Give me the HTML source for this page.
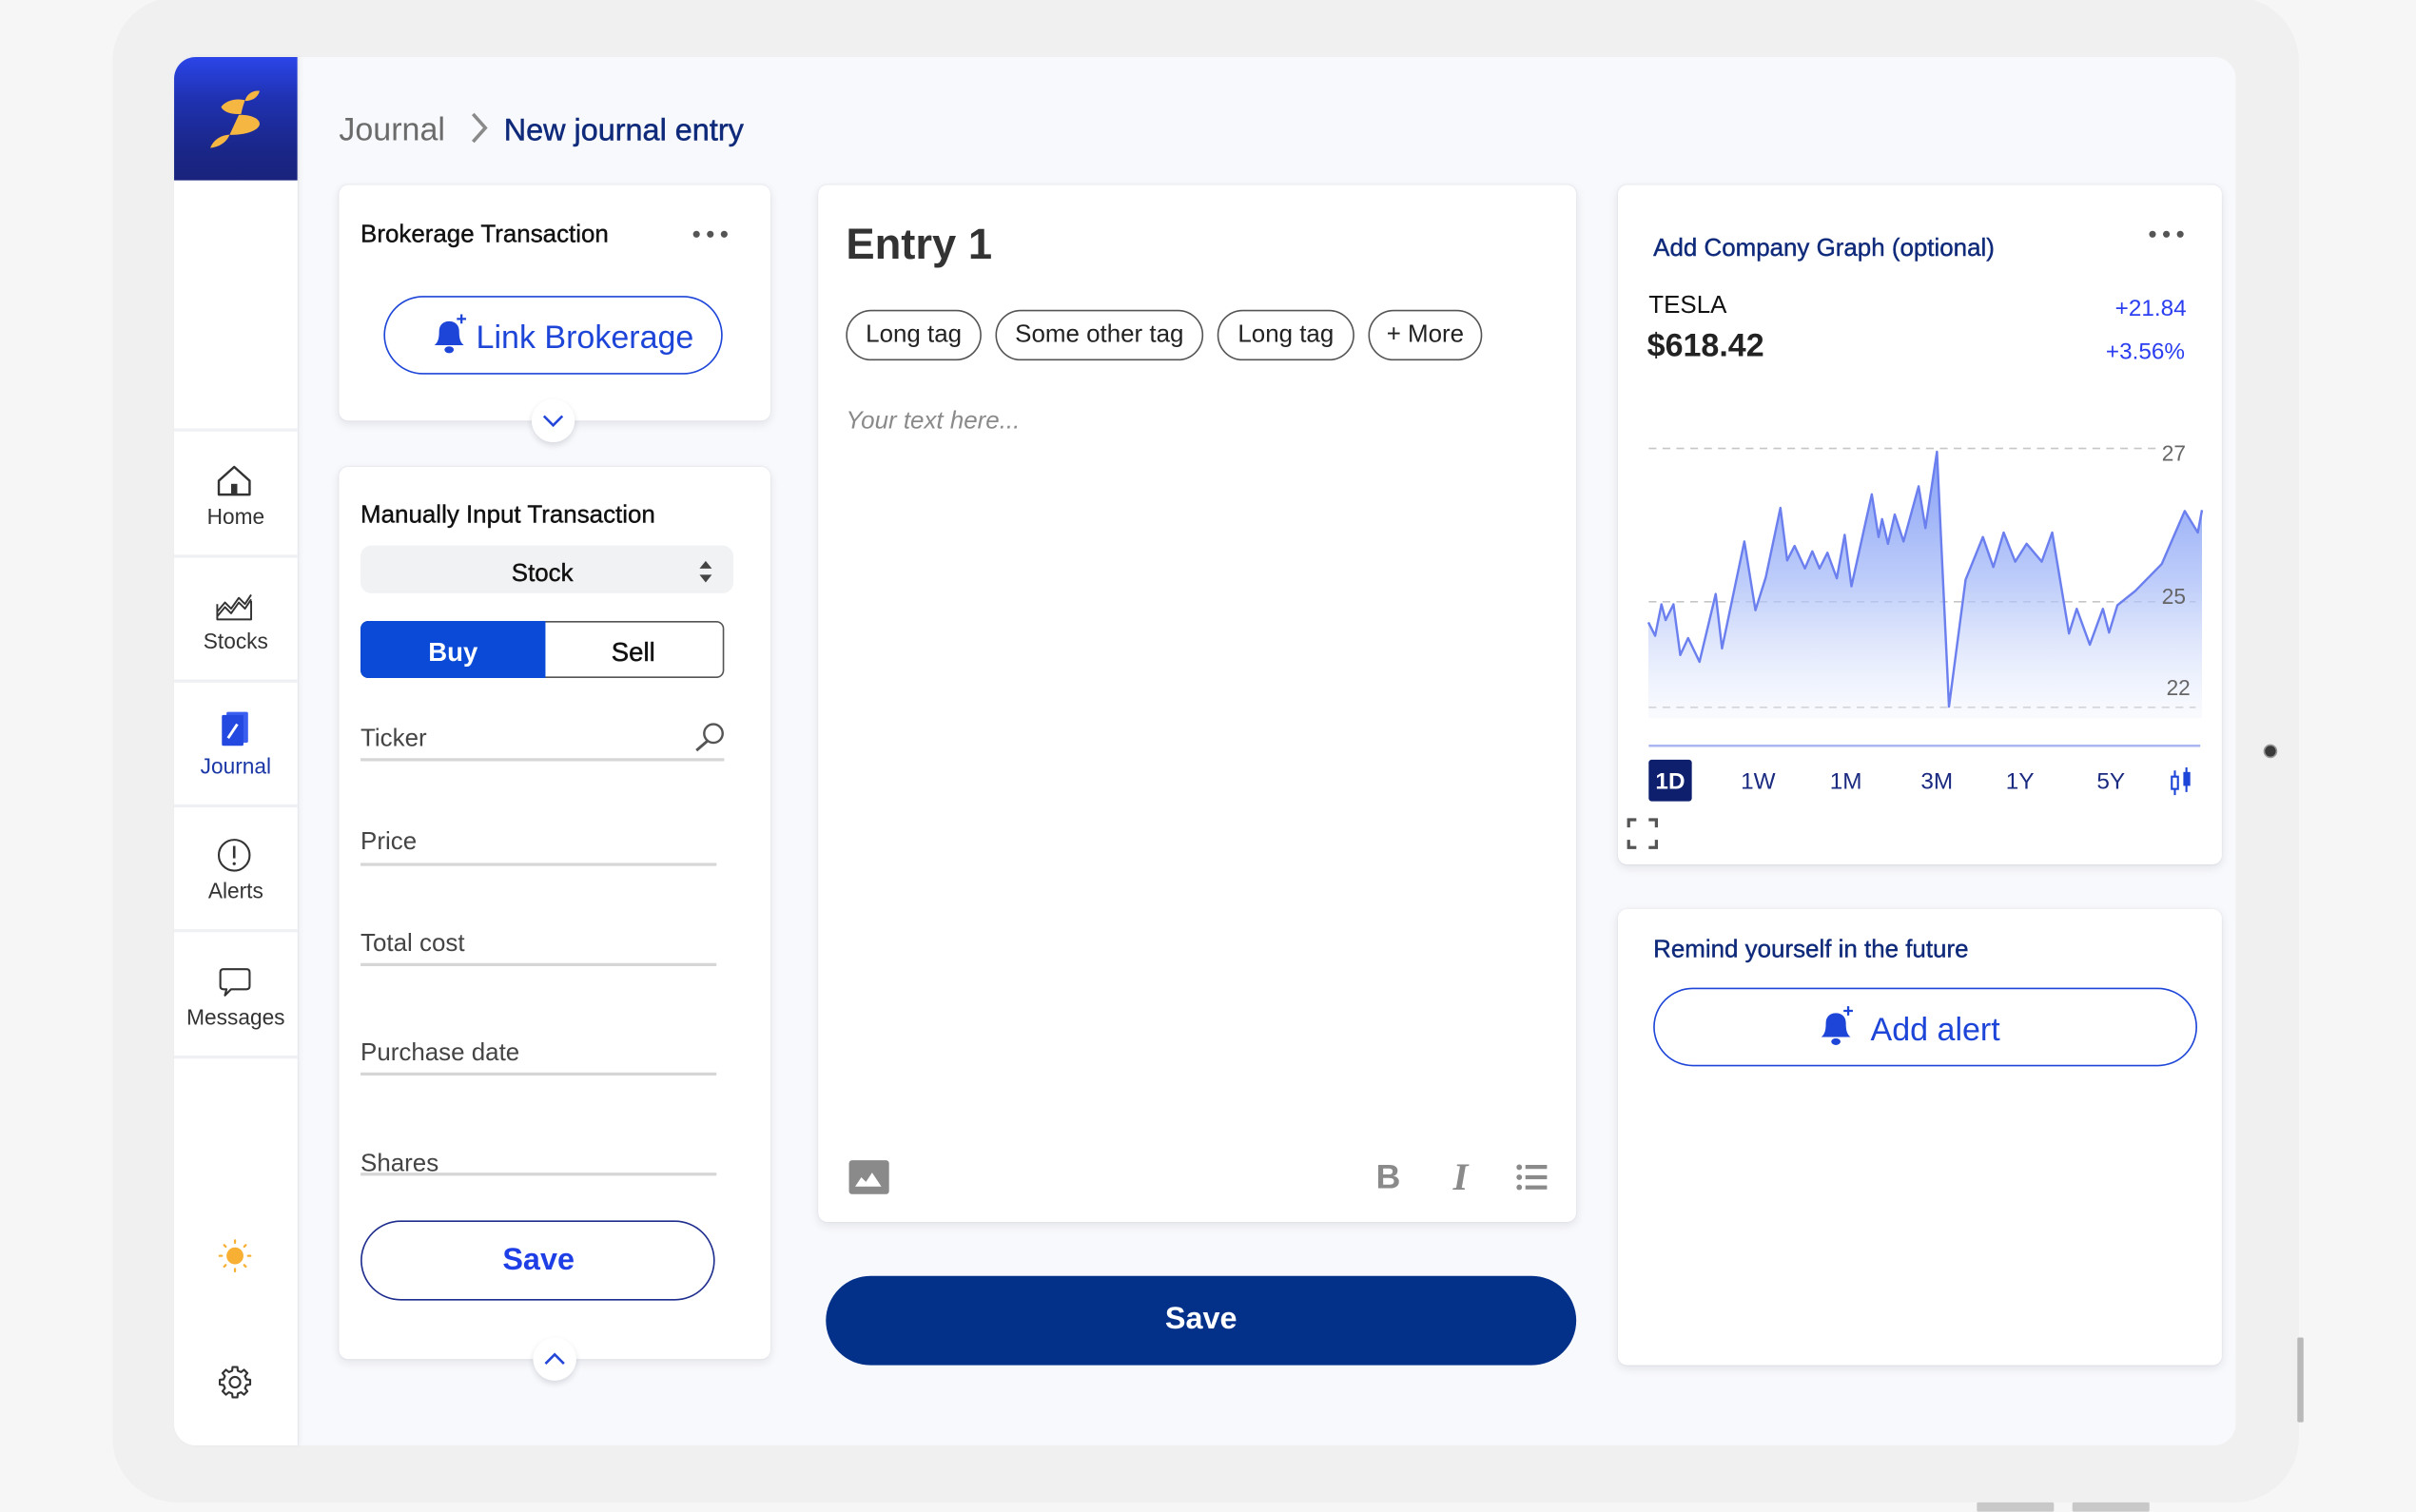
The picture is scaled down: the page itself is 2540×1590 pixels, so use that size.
<!DOCTYPE html>
<html><head><meta charset="utf-8">
<style>
html,body{margin:0;padding:0;}
body{width:2540px;height:1588px;overflow:hidden;background:#f6f6f7;font-family:"Liberation Sans",Arial,sans-serif;}
.s{position:absolute;left:0;top:0;width:1568px;height:980px;transform:scale(1.6199,1.6204);transform-origin:0 0;}
.a{position:absolute;}
.t{position:absolute;line-height:1;white-space:nowrap;margin-top:1.5px;}
.t0{margin-top:0;}
.card{position:absolute;background:#fff;border-radius:6px;box-shadow:0 2px 6px rgba(20,30,60,0.10),0 0 1px rgba(20,30,60,0.08);}
.ul{position:absolute;height:1.5px;background:#d6d6d6;}
.tag{position:absolute;top:201px;border:1px solid #555;border-radius:17px;display:flex;align-items:center;justify-content:center;font-size:16px;color:#222;white-space:nowrap;padding-top:1px;box-sizing:border-box;height:33px;}
.lbl{position:absolute;left:113px;width:80px;text-align:center;font-size:14px;line-height:1;color:#333;}
.sep{position:absolute;left:113px;width:80px;height:2px;background:#eef0f3;}
.circ{position:absolute;width:28px;height:28px;border-radius:50%;background:#fff;box-shadow:0 2px 4px rgba(20,30,60,0.14);}
</style></head>
<body>
<div class="s">
  <!-- device frame -->
  <div class="a" style="left:0;top:0;width:72px;height:980px;background:#f6f6f7;"></div>
  <div class="a" style="left:73px;top:-2px;width:1419px;height:977px;background:#f0f0f0;border-radius:42px;"></div>
  <div class="a" style="left:1491px;top:868px;width:4px;height:55px;background:#b9b9b9;border-radius:1px;"></div>
  <div class="a" style="left:1283px;top:975px;width:50px;height:6px;background:#c8c8c8;border-radius:1px;"></div>
  <div class="a" style="left:1345px;top:975px;width:50px;height:6px;background:#c8c8c8;border-radius:1px;"></div>
  <div class="a" style="left:1469px;top:483px;width:7px;height:7px;border-radius:50%;background:#3a3a3a;border:1px solid #9a9a9a;"></div>

  <!-- screen -->
  <div class="a" style="left:113px;top:37px;width:1338px;height:901px;background:#f8f9fc;border-radius:14px;"></div>
  <!-- sidebar -->
  <div class="a" style="left:113px;top:37px;width:80px;height:901px;background:#fff;border-radius:14px 0 0 14px;border-right:1px solid #e7e9ee;box-shadow:1px 0 3px rgba(0,0,0,0.04);"></div>
  <div class="a" style="left:113px;top:37px;width:80px;height:80px;border-radius:14px 0 0 0;background:linear-gradient(180deg,#2b45e8 0%,#1f31b0 35%,#1a2688 75%,#19237c 100%);"></div>
  <div class="sep" style="top:278px"></div>
  <div class="sep" style="top:360px"></div>
  <div class="sep" style="top:441px"></div>
  <div class="sep" style="top:522px"></div>
  <div class="sep" style="top:603px"></div>
  <div class="sep" style="top:685px"></div>
  <div class="lbl" style="top:328px">Home</div>
  <div class="lbl" style="top:409px">Stocks</div>
  <div class="lbl" style="top:490px;color:#1a36a6">Journal</div>
  <div class="lbl" style="top:571px">Alerts</div>
  <div class="lbl" style="top:653px">Messages</div>

  <!-- breadcrumb -->
  <div class="t" style="left:220px;top:72px;font-size:21px;color:#6b6b6b;">Journal</div>
  <div class="t" style="left:327px;top:73px;font-size:20px;color:#0f2a7a;-webkit-text-stroke:0.3px #0f2a7a;">New journal entry</div>

  <!-- card 1 -->
  <div class="card" style="left:220px;top:120px;width:280px;height:153px;"></div>
  <div class="t" style="left:234px;top:143px;font-size:16px;color:#111;-webkit-text-stroke:0.25px #111;">Brokerage Transaction</div>
  <div class="a" style="left:249px;top:192px;width:218px;height:49px;border:1.5px solid #1d45d8;border-radius:26px;"></div>
  <div class="t" style="left:309px;top:207px;font-size:21px;color:#1d45d8;">Link Brokerage</div>
  <div class="circ" style="left:345px;top:259px;"></div>

  <!-- card 2 -->
  <div class="card" style="left:220px;top:303px;width:280px;height:579px;"></div>
  <div class="t" style="left:234px;top:325px;font-size:16px;color:#111;-webkit-text-stroke:0.25px #111;">Manually Input Transaction</div>
  <div class="a" style="left:234px;top:354px;width:242px;height:31px;background:#f1f2f4;border-radius:7px;"></div>
  <div class="t" style="left:234px;top:363px;width:236px;text-align:center;font-size:16px;color:#111;-webkit-text-stroke:0.25px #111;">Stock</div>
  <div class="a" style="left:234px;top:403px;width:234px;height:35px;border:1px solid #555;border-radius:5px;"></div>
  <div class="a" style="left:234px;top:403px;width:120px;height:37px;background:#0a4ad6;border-radius:5px 0 0 5px;"></div>
  <div class="t" style="left:234px;top:413px;width:120px;text-align:center;font-size:17px;font-weight:bold;color:#fff;">Buy</div>
  <div class="t" style="left:354px;top:413px;width:114px;text-align:center;font-size:17px;color:#111;-webkit-text-stroke:0.3px #111;">Sell</div>
  <div class="t" style="left:234px;top:470px;font-size:16px;color:#444;">Ticker</div>
  <div class="ul" style="left:234px;top:492px;width:236px;"></div>
  <div class="t" style="left:234px;top:537px;font-size:16px;color:#444;">Price</div>
  <div class="ul" style="left:234px;top:560px;width:231px;"></div>
  <div class="t" style="left:234px;top:603px;font-size:16px;color:#444;">Total cost</div>
  <div class="ul" style="left:234px;top:625px;width:231px;"></div>
  <div class="t" style="left:234px;top:674px;font-size:16px;color:#444;">Purchase date</div>
  <div class="ul" style="left:234px;top:696px;width:231px;"></div>
  <div class="t" style="left:234px;top:746px;font-size:16px;color:#444;">Shares</div>
  <div class="ul" style="left:234px;top:761px;width:231px;"></div>
  <div class="a" style="left:234px;top:792px;width:228px;height:50px;border:1.5px solid #1f2e8e;border-radius:27px;"></div>
  <div class="t t0" style="left:234px;top:808px;width:231px;text-align:center;font-size:20px;font-weight:bold;color:#1f3fe6;">Save</div>
  <div class="circ" style="left:346px;top:868px;"></div>

  <!-- center card -->
  <div class="card" style="left:531px;top:120px;width:492px;height:673px;"></div>
  <div class="t" style="left:549px;top:143px;font-size:28px;font-weight:bold;color:#333;">Entry 1</div>
  <div class="tag" style="left:549px;width:88px;">Long tag</div>
  <div class="tag" style="left:646px;width:135px;">Some other tag</div>
  <div class="tag" style="left:790px;width:89px;">Long tag</div>
  <div class="tag" style="left:888px;width:74px;">+ More</div>
  <div class="t" style="left:549px;top:264px;font-size:16px;font-style:italic;color:#8a8a8a;">Your text here...</div>
  <div class="t t0" style="left:893px;top:753px;font-size:22px;font-weight:bold;color:#8a8a8a;">B</div>
  <div class="t t0" style="left:943px;top:752px;font-size:25px;font-weight:bold;font-style:italic;font-family:'Liberation Serif',serif;color:#8a8a8a;">I</div>

  <div class="a" style="left:536px;top:828px;width:487px;height:58px;background:#03318a;border-radius:29px;"></div>
  <div class="t t0" style="left:536px;top:846px;width:487px;text-align:center;font-size:20px;font-weight:bold;color:#fff;">Save</div>

  <!-- right card -->
  <div class="card" style="left:1050px;top:120px;width:392px;height:441px;"></div>
  <div class="t" style="left:1073px;top:152px;font-size:16px;color:#0f2a7a;-webkit-text-stroke:0.25px #0f2a7a;">Add Company Graph (optional)</div>
  <div class="t" style="left:1070px;top:189px;font-size:16px;color:#111;">TESLA</div>
  <div class="t" style="left:1069px;top:212px;font-size:21px;font-weight:bold;color:#222;">$618.42</div>
  <div class="t" style="left:1320px;top:191px;width:99px;text-align:right;font-size:15px;color:#2a3ef0;">+21.84</div>
  <div class="t" style="left:1320px;top:219px;width:98px;text-align:right;font-size:15px;color:#2a3ef0;">+3.56%</div>
  <div class="a" style="left:1070px;top:493px;width:28px;height:27px;background:#0e1f6e;border-radius:2px;"></div>
  <div class="t t0" style="left:1070px;top:500px;width:28px;text-align:center;font-size:15px;font-weight:bold;color:#fff;">1D</div>
  <div class="t t0" style="left:1121px;top:500px;width:40px;text-align:center;font-size:15px;color:#1a2a80;">1W</div>
  <div class="t t0" style="left:1178px;top:500px;width:40px;text-align:center;font-size:15px;color:#1a2a80;">1M</div>
  <div class="t t0" style="left:1237px;top:500px;width:40px;text-align:center;font-size:15px;color:#1a2a80;">3M</div>
  <div class="t t0" style="left:1291px;top:500px;width:40px;text-align:center;font-size:15px;color:#1a2a80;">1Y</div>
  <div class="t t0" style="left:1350px;top:500px;width:40px;text-align:center;font-size:15px;color:#1a2a80;">5Y</div>

  <!-- remind card -->
  <div class="card" style="left:1050px;top:590px;width:392px;height:296px;"></div>
  <div class="t" style="left:1073px;top:607px;font-size:16px;color:#0f2a7a;-webkit-text-stroke:0.25px #0f2a7a;">Remind yourself in the future</div>
  <div class="a" style="left:1073px;top:641px;width:351px;height:49px;border:1.5px solid #1d45d8;border-radius:26px;"></div>
  <div class="t" style="left:1214px;top:656px;font-size:21px;color:#1d45d8;">Add alert</div>

  <!-- graphics overlay -->
  <svg class="a" style="left:0;top:0;" width="1568" height="980" viewBox="0 0 1568 980">
    <defs>
      <linearGradient id="fg" x1="0" y1="290" x2="0" y2="468" gradientUnits="userSpaceOnUse">
        <stop offset="0" stop-color="#7995f4" stop-opacity="0.95"/>
        <stop offset="0.5" stop-color="#a9bdf8" stop-opacity="0.75"/>
        <stop offset="1" stop-color="#eef2fd" stop-opacity="0.3"/>
      </linearGradient>
    </defs>
    <!-- logo -->
    <g fill="#f5b642">
      <path d="M159,65.5 C160,61 164,58.5 168.5,59 C167.5,63 164,65.5 159,65.5 Z"/>
      <path d="M159,65 C153,63.5 146,65.5 143.5,69.5 C145,72.5 150,74.5 156.5,74 C157,71 158,68 159,65 Z"/>
      <path d="M155,74.5 C162,74.3 168.5,76.5 168.5,80.5 C168,85 158,87.8 149,87.5 Z"/>
      <path d="M149,87.5 C144,87.5 138.5,90.5 136.5,96 C142,95.5 147,92.5 149,87.5 Z"/>
    </g>
    <!-- breadcrumb chevron -->
    <polyline points="307,74 315,83 307,92" fill="none" stroke="#8a8a8a" stroke-width="2.2"/>
    <!-- card1 dots -->
    <g fill="#555"><circle cx="452" cy="152" r="2.2"/><circle cx="461" cy="152" r="2.2"/><circle cx="470" cy="152" r="2.2"/></g>
    <!-- bells -->
    <g fill="#1d45d8" transform="translate(282,207)">
      <path d="M0,17 C2.5,15 3,12 3,8 C3,4 5.5,1.5 9.5,1.5 C13.5,1.5 16,4 16,8 C16,12 16.5,15 19,17 Z"/>
      <ellipse cx="9.5" cy="20" rx="3" ry="2.2"/>
      <path d="M17.5,-3 v6 M14.5,0 h6" stroke="#1d45d8" stroke-width="1.4"/>
    </g>
    <g fill="#1d45d8" transform="translate(1182,656)">
      <path d="M0,17 C2.5,15 3,12 3,8 C3,4 5.5,1.5 9.5,1.5 C13.5,1.5 16,4 16,8 C16,12 16.5,15 19,17 Z"/>
      <ellipse cx="9.5" cy="20" rx="3" ry="2.2"/>
      <path d="M17.5,-3 v6 M14.5,0 h6" stroke="#1d45d8" stroke-width="1.4"/>
    </g>
    <!-- chevrons -->
    <polyline points="353,270 359,276 365,270" fill="none" stroke="#2346d8" stroke-width="1.6"/>
    <polyline points="354,885 360,879 366,885" fill="none" stroke="#2346d8" stroke-width="1.6"/>
    <!-- select arrows -->
    <path d="M454,369 L458,364 L462,369 Z M454,373 L458,378 L462,373 Z" fill="#444"/>
    <!-- search -->
    <circle cx="463" cy="476" r="6" fill="none" stroke="#555" stroke-width="1.5"/>
    <line x1="459" y1="481" x2="452" y2="487" stroke="#555" stroke-width="1.8"/>
    <!-- image icon -->
    <rect x="551" y="753" width="26" height="22" rx="2" fill="#8a8a8a"/>
    <path d="M555,770 L559,764 L562,767 L566,761 L572,770 Z" fill="#fff"/>
    <!-- list icon -->
    <g fill="#8a8a8a"><circle cx="986" cy="757.5" r="1.8"/><circle cx="986" cy="764" r="1.8"/><circle cx="986" cy="770.5" r="1.8"/>
    <rect x="990" y="756" width="14" height="2.6"/><rect x="990" y="762.7" width="14" height="2.6"/><rect x="990" y="769.3" width="14" height="2.6"/></g>
    <!-- right card dots -->
    <g fill="#555"><circle cx="1397" cy="152" r="2.2"/><circle cx="1406" cy="152" r="2.2"/><circle cx="1415" cy="152" r="2.2"/></g>
    <!-- chart grid -->
    <g stroke="#c6c6c6" stroke-width="1" stroke-dasharray="5 4">
      <line x1="1070" y1="291" x2="1400" y2="291"/>
      <line x1="1070" y1="390.5" x2="1425" y2="390.5"/>
      <line x1="1070" y1="459" x2="1425" y2="459"/>
    </g>
    <path fill="url(#fg)" d="M1069.8,403.9 L1074.2,412.6 L1078.3,392.2 L1081,402.4 L1086.1,392.2 L1090.5,425.1 L1095.6,414.1 L1103,429.5 L1113.5,385.5 L1117.6,420.8 L1132.1,351.4 L1139.3,396 L1146,374.7 L1155.5,329.6 L1159.9,363.7 L1164.7,354.3 L1171.4,368.9 L1176.2,357.8 L1180.9,368.9 L1186,358.7 L1192.1,375.3 L1197.2,347.1 L1201.6,380.5 L1214.8,320.8 L1219.2,348.5 L1221.5,336.9 L1225.3,352.9 L1229.7,333.9 L1235.4,351.4 L1245.2,315.6 L1249.6,342.7 L1257.1,293.2 L1264.9,458.6 L1275.7,376.2 L1286.9,348.5 L1293.7,368 L1300.4,345.6 L1307.9,364.5 L1315.3,352.9 L1325.1,364.5 L1331.9,345.6 L1342.8,411.1 L1347.8,395.1 L1356.3,418.4 L1364.8,395.1 L1368.8,410.5 L1374.2,392.8 L1385.8,383.5 L1403,366 L1417.9,331.6 L1426.4,345.6 L1429.1,331 L1429.1,466 L1069.8,466 Z"/>
    <polyline fill="none" stroke="#6b7fee" stroke-width="1.5" stroke-linejoin="round" points="1069.8,403.9 1074.2,412.6 1078.3,392.2 1081,402.4 1086.1,392.2 1090.5,425.1 1095.6,414.1 1103,429.5 1113.5,385.5 1117.6,420.8 1132.1,351.4 1139.3,396 1146,374.7 1155.5,329.6 1159.9,363.7 1164.7,354.3 1171.4,368.9 1176.2,357.8 1180.9,368.9 1186,358.7 1192.1,375.3 1197.2,347.1 1201.6,380.5 1214.8,320.8 1219.2,348.5 1221.5,336.9 1225.3,352.9 1229.7,333.9 1235.4,351.4 1245.2,315.6 1249.6,342.7 1257.1,293.2 1264.9,458.6 1275.7,376.2 1286.9,348.5 1293.7,368 1300.4,345.6 1307.9,364.5 1315.3,352.9 1325.1,364.5 1331.9,345.6 1342.8,411.1 1347.8,395.1 1356.3,418.4 1364.8,395.1 1368.8,410.5 1374.2,392.8 1385.8,383.5 1403,366 1417.9,331.6 1426.4,345.6 1429.1,331"/>
    <line x1="1070" y1="484" x2="1428" y2="484" stroke="#a9b6f2" stroke-width="1.5"/>
    <g font-family="Liberation Sans, Arial, sans-serif" font-size="14" fill="#666">
      <text x="1403" y="299">27</text>
      <text x="1403" y="392">25</text>
      <text x="1406" y="451">22</text>
    </g>
    <!-- candle icon -->
    <g stroke="#1d45d8" stroke-width="1.3" fill="none">
      <line x1="1411.5" y1="500" x2="1411.5" y2="516"/>
      <rect x="1409.5" y="504" width="4" height="8" fill="#fff"/>
      <line x1="1419" y1="498" x2="1419" y2="514"/>
    </g>
    <rect x="1417" y="501" width="4.5" height="9" fill="#1d45d8"/>
    <!-- expand icon -->
    <g stroke="#555" stroke-width="2" fill="none">
      <polyline points="1057,537 1057,532 1062,532"/>
      <polyline points="1070,532 1075,532 1075,537"/>
      <polyline points="1057,545 1057,550 1062,550"/>
      <polyline points="1070,550 1075,550 1075,545"/>
    </g>
    <!-- sidebar icons -->
    <g fill="none" stroke="#333" stroke-width="1.5" stroke-linejoin="round">
      <path d="M142,312 L152,303 L162,312 L162,321 L142,321 Z"/>
    </g>
    <rect x="150" y="314" width="4" height="7" fill="#333"/>
    <g fill="none" stroke="#333" stroke-width="1.2" stroke-linejoin="round">
      <path d="M141,392 L141,402 L163,402 L163,390"/>
      <polyline points="141,397 146,391 150,395 155,388 159,392 163,386"/>
      <polyline points="141,400 146,394 150,398 155,391 159,395 163,389"/>
    </g>
    <rect x="147" y="462" width="14" height="20" rx="1" fill="#3a5ff0"/>
    <rect x="144" y="464" width="14" height="20" rx="1" fill="#2349e0"/>
    <line x1="148" y1="479" x2="154" y2="470" stroke="#fff" stroke-width="1.8"/>
    <circle cx="152" cy="555" r="10" fill="none" stroke="#333" stroke-width="1.3"/>
    <line x1="152" y1="549" x2="152" y2="557" stroke="#333" stroke-width="1.6"/>
    <circle cx="152" cy="560.5" r="1" fill="#333"/>
    <path d="M145,629 L160,629 Q162,629 162,631 L162,640 Q162,642 160,642 L150,642 L146,646 L147,642 L145,642 Q143,642 143,640 L143,631 Q143,629 145,629 Z" fill="none" stroke="#333" stroke-width="1.3" stroke-linejoin="round"/>
    <circle cx="152.5" cy="815" r="5.5" fill="#f7b033"/>
    <g stroke="#f7b033" stroke-width="1.4" stroke-linecap="round">
      <line x1="152.5" y1="805" x2="152.5" y2="806.5"/><line x1="152.5" y1="823.5" x2="152.5" y2="825"/>
      <line x1="142.5" y1="815" x2="144" y2="815"/><line x1="161" y1="815" x2="162.5" y2="815"/>
      <line x1="145.5" y1="808" x2="146.5" y2="809"/><line x1="158.5" y1="821" x2="159.5" y2="822"/>
      <line x1="159.5" y1="808" x2="158.5" y2="809"/><line x1="146.5" y1="821" x2="145.5" y2="822"/>
    </g>
    <g transform="translate(152.5,897) scale(0.95)" fill="none" stroke="#333" stroke-width="1.4" stroke-linejoin="round">
      <polygon points="7.76,-1.94 10.37,-1.64 10.37,1.64 7.76,1.94 6.86,4.12 8.49,6.17 6.17,8.49 4.12,6.86 1.94,7.76 1.64,10.37 -1.64,10.37 -1.94,7.76 -4.12,6.86 -6.17,8.49 -8.49,6.17 -6.86,4.12 -7.76,1.94 -10.37,1.64 -10.37,-1.64 -7.76,-1.94 -6.86,-4.12 -8.49,-6.17 -6.17,-8.49 -4.12,-6.86 -1.94,-7.76 -1.64,-10.37 1.64,-10.37 1.94,-7.76 4.12,-6.86 6.17,-8.49 8.49,-6.17 6.86,-4.12"/>
      <circle cx="0" cy="0" r="3.6"/>
    </g>
  </svg>
</div>
</body></html>
